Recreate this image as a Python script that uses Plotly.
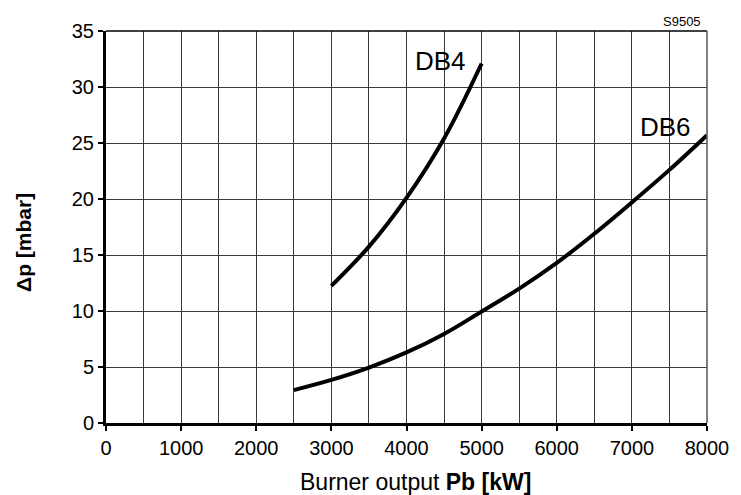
import plotly.graph_objects as go

power_db4 = [3000, 3500, 4000, 4500, 5000]
dp_db4 = [12.25, 15.75, 20.1, 25.4, 32.1]

power_db6 = [2500, 3000, 3500, 4000, 4500, 5000, 5500, 6000, 6500, 7000, 7500, 8000]
dp_db6 = [2.94, 3.85, 4.95, 6.3, 7.95, 9.95, 12.0, 14.3, 16.9, 19.7, 22.6, 25.7]

x_ticks = [0, 1000, 2000, 3000, 4000, 5000, 6000, 7000, 8000]
y_ticks = [0, 5, 10, 15, 20, 25, 30, 35]

FONT = "Arial, Liberation Sans, Helvetica, sans-serif"
GRID = "#3a3a3a"

fig = go.Figure()
fig.add_trace(go.Scatter(x=power_db4, y=dp_db4, mode="lines",
                         line=dict(color="black", width=4, shape="spline", smoothing=1),
                         showlegend=False, hoverinfo="skip"))
fig.add_trace(go.Scatter(x=power_db6, y=dp_db6, mode="lines",
                         line=dict(color="black", width=4, shape="spline", smoothing=1),
                         showlegend=False, hoverinfo="skip"))

fig.update_layout(
    width=733, height=487,
    margin=dict(l=98, r=30, t=20, b=72),
    paper_bgcolor="white", plot_bgcolor="white",
    font=dict(family=FONT, color="black", size=20),
    xaxis=dict(range=[0, 8000], tickvals=x_ticks, ticktext=[str(v) for v in x_ticks],
               showgrid=True, gridcolor=GRID, gridwidth=1,
               minor=dict(dtick=500, tick0=0, showgrid=True, gridcolor=GRID, gridwidth=1),
               showline=True, linecolor="black", linewidth=3,
               ticks="outside", ticklen=5, tickwidth=2, tickcolor="black",
               zeroline=False, tickfont=dict(size=20, family=FONT)),
    yaxis=dict(range=[0, 35], tickvals=y_ticks, ticktext=[str(v) for v in y_ticks],
               showgrid=True, gridcolor=GRID, gridwidth=1,
               showline=True, linecolor="black", linewidth=3,
               ticks="outside", ticklen=5, tickwidth=2, tickcolor="black",
               zeroline=False, tickfont=dict(size=20, family=FONT)),
    shapes=[
        dict(type="line", xref="paper", yref="paper", x0=0, x1=1, y0=1, y1=1,
             line=dict(color="black", width=1.5)),
        dict(type="line", xref="paper", yref="paper", x0=1, x1=1, y0=0, y1=1,
             line=dict(color="#555", width=1.5)),
    ],
    annotations=[
        dict(x=4450, y=32.3, xref="x", yref="y", text="DB4", showarrow=False,
             xanchor="center", yanchor="middle",
             font=dict(size=26, family=FONT)),
        dict(x=7450, y=26.4, xref="x", yref="y", text="DB6", showarrow=False,
             xanchor="center", yanchor="middle",
             font=dict(size=26, family=FONT)),
        dict(x=(707 - 106) / 605, y=(423 - 18) / 395, xref="paper", yref="paper",
             text="S9505", showarrow=False, xanchor="right", yanchor="middle",
             font=dict(size=13, family=FONT)),
        dict(x=(418 - 106) / 605, y=(423 - 482) / 395, xref="paper", yref="paper",
             text="Burner output <b>Pb [kW]</b>", showarrow=False,
             xanchor="center", yanchor="middle",
             font=dict(size=23, family=FONT)),
        dict(x=(23 - 106) / 605, y=(423 - 241) / 395, xref="paper", yref="paper",
             text="<b>Δp [mbar]</b>", showarrow=False, textangle=-90,
             xanchor="center", yanchor="middle",
             font=dict(size=21, family=FONT)),
    ],
)

fig.write_html("out.html")
